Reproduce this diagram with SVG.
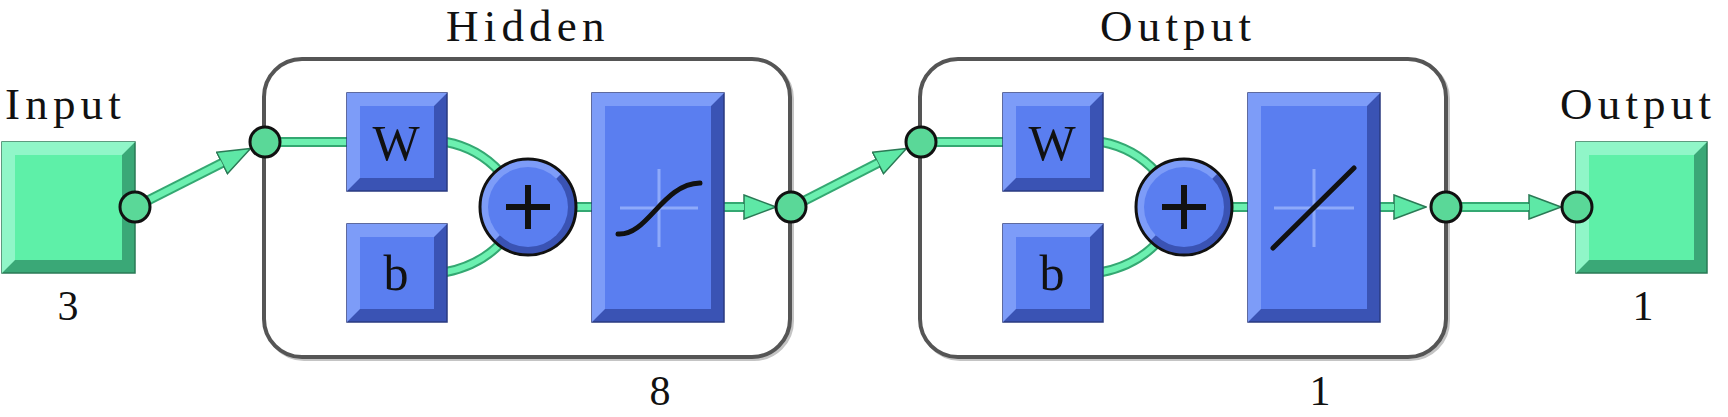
<svg xmlns="http://www.w3.org/2000/svg" width="1728" height="417" viewBox="0 0 1728 417">
<defs>
<style>
.lbl{font-family:"Liberation Serif","Times New Roman",serif;font-size:45px;letter-spacing:5.2px;fill:#111}
.num{font-family:"Liberation Serif","Times New Roman",serif;font-size:42px;fill:#111;text-anchor:middle}
.boxtxt{font-family:"Liberation Serif","Times New Roman",serif;font-size:50px;fill:#111;text-anchor:middle}
.layer{fill:#fff;stroke:#555;stroke-width:4}
.shadow{fill:none;stroke:#c4c4c4;stroke-width:4}
.cout{fill:none;stroke:#34a872;stroke-width:10}
.cin{fill:none;stroke:#6cf0b0;stroke-width:6}
.port{fill:#5ad898;stroke:#111;stroke-width:3}
.bdark{fill:#3a53b4;stroke:#2a3a80;stroke-width:1.5}
.blight{fill:#7d9cf8}
.bface{fill:#5a7ef0}
.gdark{fill:#3aa877;stroke:#2a7a55;stroke-width:1.5}
.glight{fill:#90f6c8}
.gface{fill:#5ef0a8}
.cross{stroke:#8eaafa;stroke-width:3;fill:none}
.fn{stroke:#111;stroke-width:5;fill:none;stroke-linecap:round}
</style>
<marker id="arr" markerUnits="userSpaceOnUse" viewBox="0 0 34 26" markerWidth="34" markerHeight="26" refX="1" refY="13" orient="auto">
<path d="M1,1 L33,13 L1,25 z" fill="#5ee8a6" stroke="#2a7a55" stroke-width="1.5"/>
</marker>
</defs>
<rect width="1728" height="417" fill="#fff"/>

<g id="hidden-layer">
<rect class="shadow" x="266" y="61" width="526" height="298" rx="38"/>
<rect class="layer" x="264" y="59" width="526" height="298" rx="38"/>
<text class="lbl" x="446" y="41" font-family="Liberation Serif">Hidden</text>
<text class="num" x="660" y="405" font-family="Liberation Serif">8</text>
</g>
<g id="output-layer">
<rect class="shadow" x="922" y="61" width="526" height="298" rx="38"/>
<rect class="layer" x="920" y="59" width="526" height="298" rx="38"/>
<text class="lbl" x="1100" y="41" font-family="Liberation Serif">Output</text>
<text class="num" x="1320" y="405" font-family="Liberation Serif">1</text>
</g>

<g id="connectors">
<path class="cout" d="M135,207 L222,163" marker-end="url(#arr)"/>
<path class="cin" d="M135,207 L222,163"/>
<path class="cout" d="M265,142 L348,142"/>
<path class="cin" d="M265,142 L348,142"/>
<path class="cout" d="M446,142 Q478,148 500,172"/>
<path class="cin" d="M446,142 Q478,148 500,172"/>
<path class="cout" d="M446,272 Q478,266 500,244"/>
<path class="cin" d="M446,272 Q478,266 500,244"/>
<path class="cout" d="M570,207 L593,207"/>
<path class="cin" d="M570,207 L593,207"/>
<path class="cout" d="M723,207 L744,207" marker-end="url(#arr)"/>
<path class="cin" d="M723,207 L744,207"/>
<path class="cout" d="M792,207 L878,163" marker-end="url(#arr)"/>
<path class="cin" d="M792,207 L878,163"/>
<path class="cout" d="M921,142 L1004,142"/>
<path class="cin" d="M921,142 L1004,142"/>
<path class="cout" d="M1102,142 Q1134,148 1156,172"/>
<path class="cin" d="M1102,142 Q1134,148 1156,172"/>
<path class="cout" d="M1102,272 Q1134,266 1156,244"/>
<path class="cin" d="M1102,272 Q1134,266 1156,244"/>
<path class="cout" d="M1226,207 L1249,207"/>
<path class="cin" d="M1226,207 L1249,207"/>
<path class="cout" d="M1379,207 L1394,207" marker-end="url(#arr)"/>
<path class="cin" d="M1379,207 L1394,207"/>
<path class="cout" d="M1446,207 L1529,207" marker-end="url(#arr)"/>
<path class="cin" d="M1446,207 L1529,207"/>
</g>

<g id="input">
<text class="lbl" x="5" y="119" font-family="Liberation Serif">Input</text>
<rect class="gdark" x="2" y="142" width="133" height="131"/>
<polygon class="glight" points="2,142 135,142 122,155 15,155 15,260 2,273"/>
<rect class="gface" x="15" y="155" width="107" height="105"/>
<circle class="port" cx="135" cy="207" r="15"/>
<text class="num" x="68" y="320" font-family="Liberation Serif">3</text>
</g>

<g id="hidden-in-port"><circle class="port" cx="265" cy="142" r="15"/></g>

<g id="hidden-W">
<rect class="bdark" x="347" y="93" width="100" height="98"/>
<polygon class="blight" points="347,93 447,93 434,106 360,106 360,178 347,191"/>
<rect class="bface" x="360" y="106" width="74" height="72"/>
<text class="boxtxt" x="396" y="160" font-family="Liberation Serif">W</text>
</g>
<g id="hidden-b">
<rect class="bdark" x="347" y="224" width="100" height="98"/>
<polygon class="blight" points="347,224 447,224 434,237 360,237 360,309 347,322"/>
<rect class="bface" x="360" y="237" width="74" height="72"/>
<text class="boxtxt" x="396" y="290" font-family="Liberation Serif">b</text>
</g>
<g id="hidden-sum">
<circle cx="528" cy="207" r="48" fill="#3a53b4"/>
<path d="M494,241 A48,48 0 0 1 562,173 Z" fill="#7d9cf8"/>
<circle cx="528" cy="207" r="40" fill="#5a7ef0"/>
<circle cx="528" cy="207" r="48" fill="none" stroke="#111" stroke-width="3"/>
<path d="M506,207 H550 M528,185 V229" stroke="#111" stroke-width="6"/>
</g>
<g id="hidden-tansig">
<rect class="bdark" x="592" y="93" width="132" height="229"/>
<polygon class="blight" points="592,93 724,93 711,106 605,106 605,309 592,322"/>
<rect class="bface" x="605" y="106" width="106" height="203"/>
<path class="cross" d="M620,208 H698 M659,169 V247"/>
<path class="fn" d="M618,234 C648,236 662,184 700,183"/>
</g>
<g id="hidden-out-port"><circle class="port" cx="791" cy="207" r="15"/></g>

<g id="output-in-port"><circle class="port" cx="921" cy="142" r="15"/></g>
<g id="output-W">
<rect class="bdark" x="1003" y="93" width="100" height="98"/>
<polygon class="blight" points="1003,93 1103,93 1090,106 1016,106 1016,178 1003,191"/>
<rect class="bface" x="1016" y="106" width="74" height="72"/>
<text class="boxtxt" x="1052" y="160" font-family="Liberation Serif">W</text>
</g>
<g id="output-b">
<rect class="bdark" x="1003" y="224" width="100" height="98"/>
<polygon class="blight" points="1003,224 1103,224 1090,237 1016,237 1016,309 1003,322"/>
<rect class="bface" x="1016" y="237" width="74" height="72"/>
<text class="boxtxt" x="1052" y="290" font-family="Liberation Serif">b</text>
</g>
<g id="output-sum">
<circle cx="1184" cy="207" r="48" fill="#3a53b4"/>
<path d="M1150,241 A48,48 0 0 1 1218,173 Z" fill="#7d9cf8"/>
<circle cx="1184" cy="207" r="40" fill="#5a7ef0"/>
<circle cx="1184" cy="207" r="48" fill="none" stroke="#111" stroke-width="3"/>
<path d="M1162,207 H1206 M1184,185 V229" stroke="#111" stroke-width="6"/>
</g>
<g id="output-purelin">
<rect class="bdark" x="1248" y="93" width="132" height="229"/>
<polygon class="blight" points="1248,93 1380,93 1367,106 1261,106 1261,309 1248,322"/>
<rect class="bface" x="1261" y="106" width="106" height="203"/>
<path class="cross" d="M1274,208 H1354 M1314,169 V247"/>
<path class="fn" d="M1273,248 L1354,168"/>
</g>
<g id="output-out-port"><circle class="port" cx="1446" cy="207" r="15"/></g>

<g id="output">
<text class="lbl" x="1560" y="119" font-family="Liberation Serif">Output</text>
<rect class="gdark" x="1576" y="142" width="131" height="131"/>
<polygon class="glight" points="1576,142 1707,142 1694,155 1589,155 1589,260 1576,273"/>
<rect class="gface" x="1589" y="155" width="105" height="105"/>
<circle class="port" cx="1577" cy="207" r="15"/>
<text class="num" x="1643" y="320" font-family="Liberation Serif">1</text>
</g>
</svg>
